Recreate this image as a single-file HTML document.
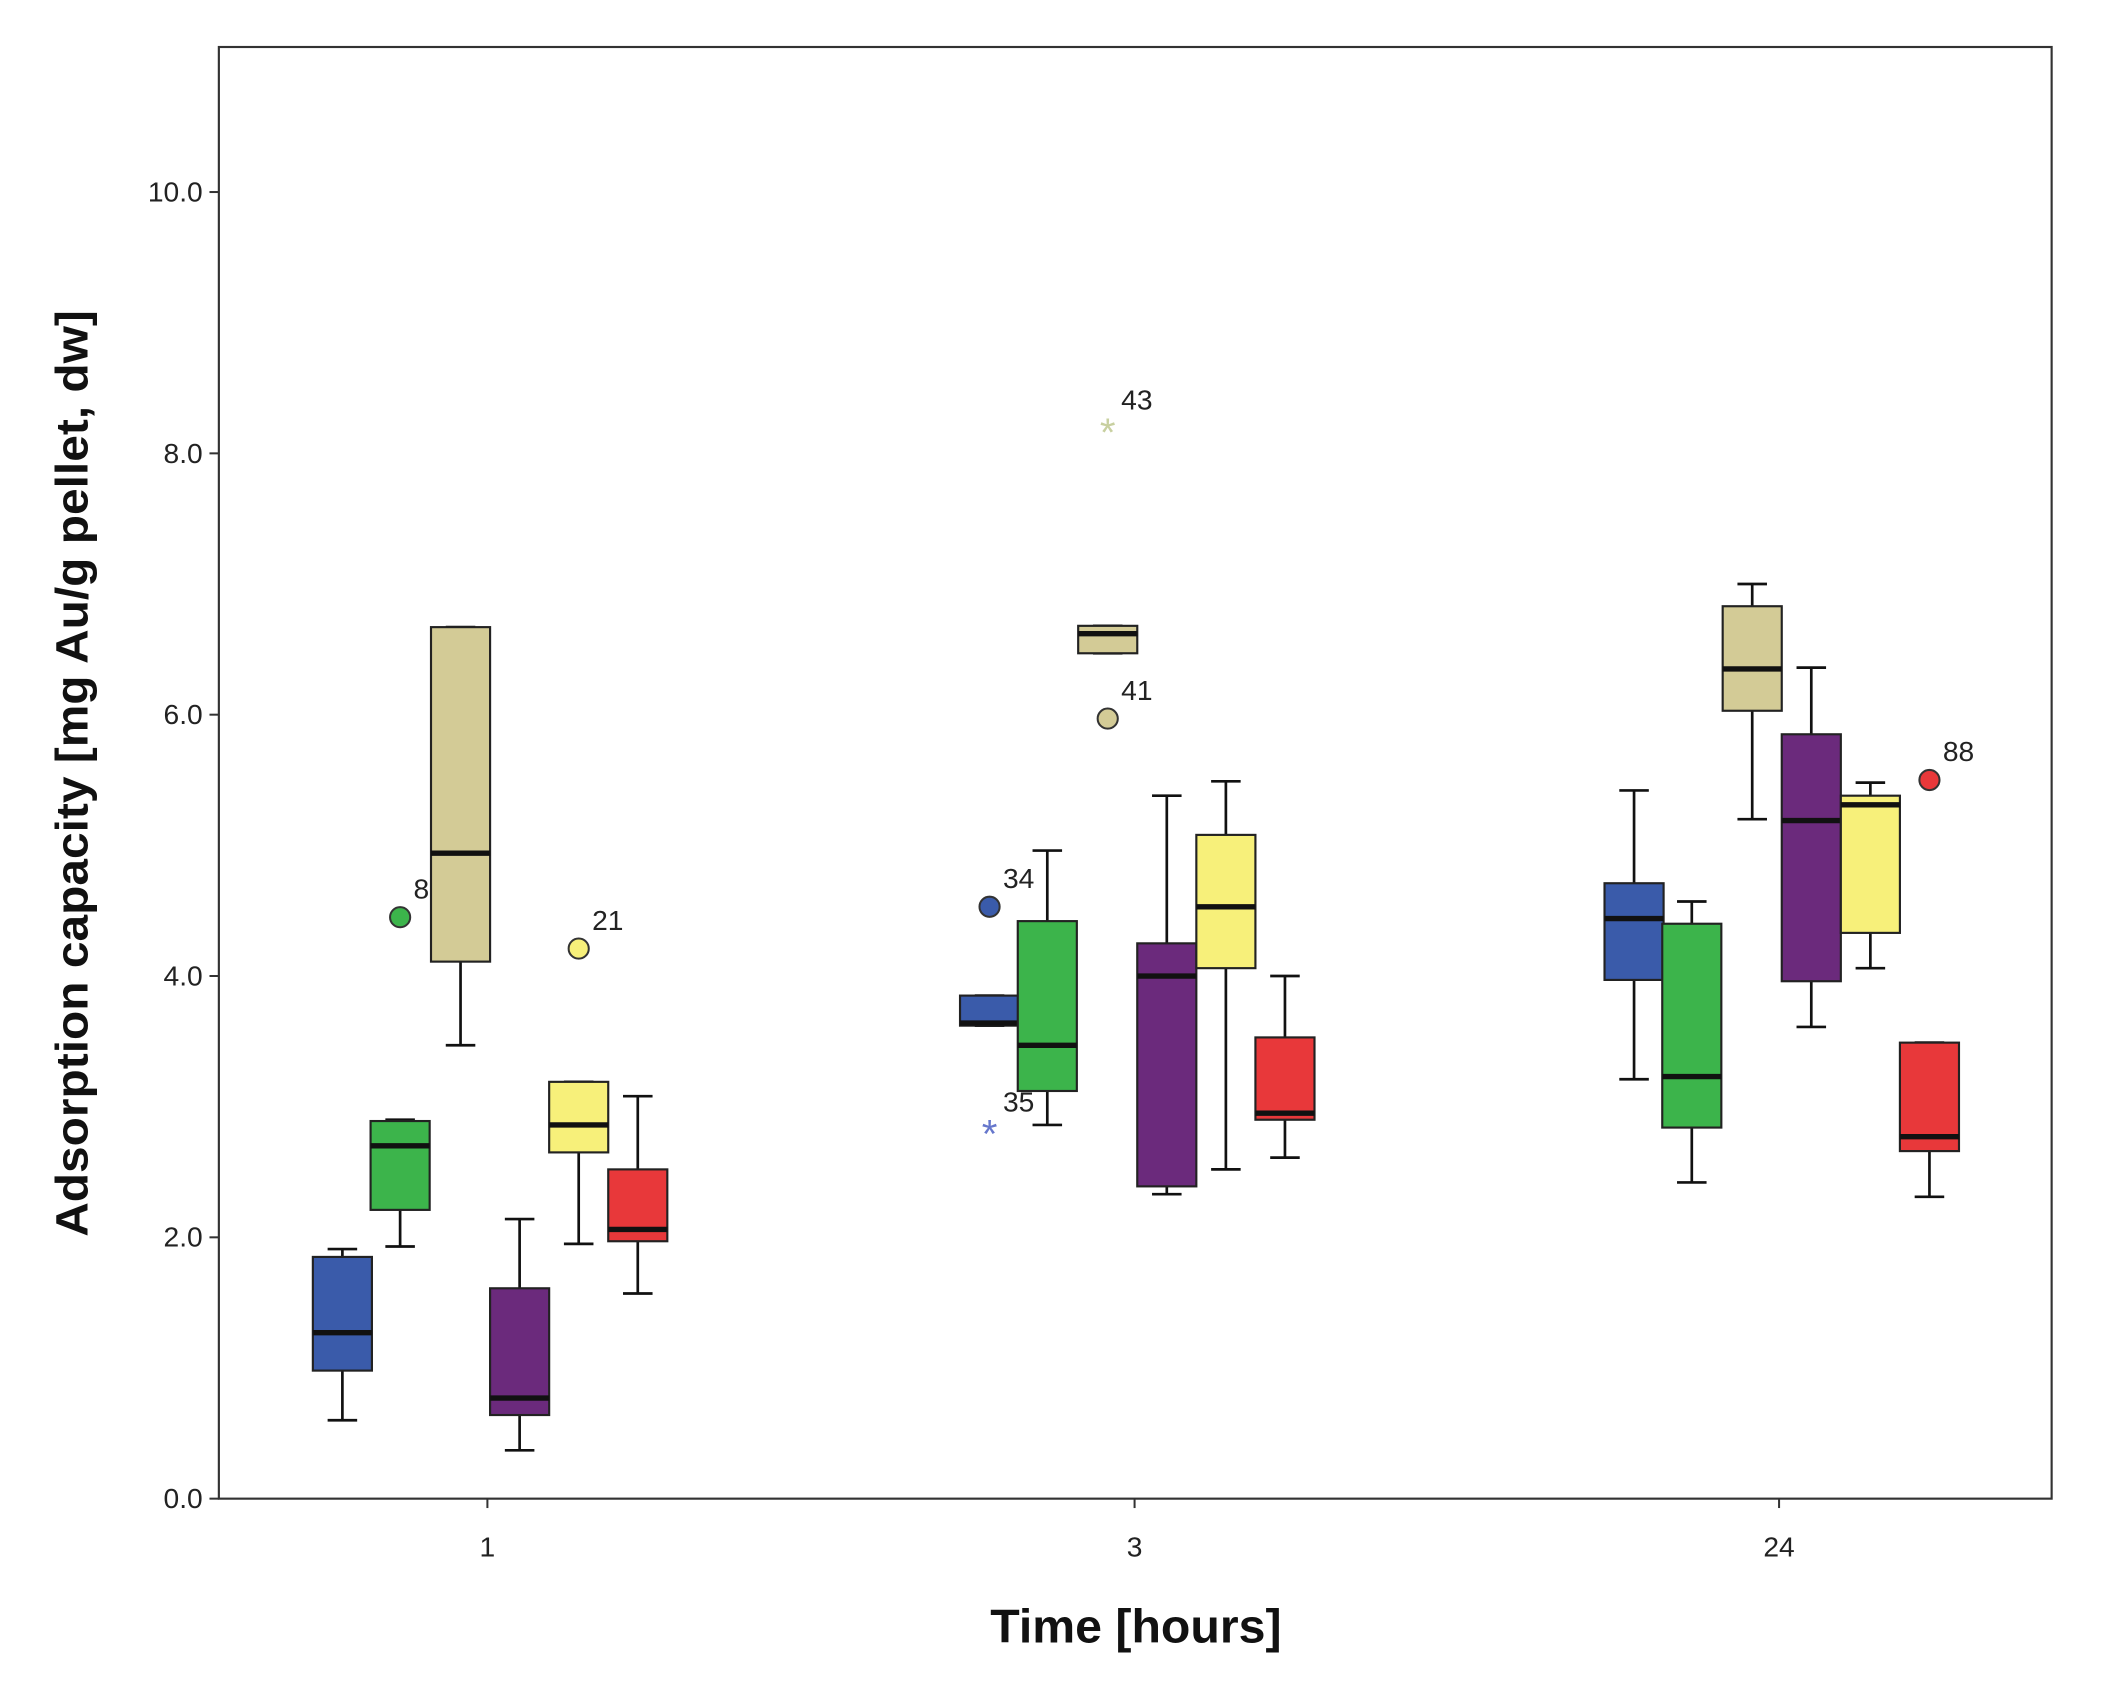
<!DOCTYPE html>
<html><head><meta charset="utf-8"><style>
html,body{margin:0;padding:0;background:#fff;}
svg{display:block;font-family:"Liberation Sans",Arial,sans-serif;}
</style></head><body>
<svg id="chart" width="2104" height="1688" viewBox="0 0 1567 1257" preserveAspectRatio="none" xmlns="http://www.w3.org/2000/svg">
<rect x="0" y="0" width="1567" height="1257" fill="#fff"/>
<g id="axes"></g>
<g id="marks"></g>
<text transform="translate(65,576) rotate(-90)" text-anchor="middle" font-size="34" font-weight="bold" fill="#111" textLength="690" lengthAdjust="spacingAndGlyphs">Adsorption capacity [mg Au/g pellet, dw]</text>
<text x="846" y="1223" text-anchor="middle" font-size="35" font-weight="bold" fill="#111" textLength="217" lengthAdjust="spacingAndGlyphs">Time [hours]</text>
</svg>
<script>
const categories = ["1","3","24"];
const seriesNames = ["blue","green","tan","purple","yellow","red"];
const seriesColors = ["#3a5baa","#3cb44b","#d3cb96","#6b2a7c","#f7f07a","#e8383a"];
// each box: [low, q1, median, q3, high] per category
const blueStats   = [[0.6,0.98,1.27,1.85,1.91],[3.62,3.62,3.64,3.85,3.85],[3.21,3.97,4.44,4.71,5.42]];
const greenStats  = [[1.93,2.21,2.70,2.89,2.90],[2.86,3.12,3.47,4.42,4.96],[2.42,2.84,3.23,4.40,4.57]];
const tanStats    = [[3.47,4.11,4.94,6.67,6.67],[6.47,6.47,6.62,6.68,6.68],[5.20,6.03,6.35,6.83,7.00]];
const purpleStats = [[0.37,0.64,0.77,1.61,2.14],[2.33,2.39,4.00,4.25,5.38],[3.61,3.96,5.19,5.85,6.36]];
const yellowStats = [[1.95,2.65,2.86,3.19,3.19],[2.52,4.06,4.53,5.08,5.49],[4.06,4.33,5.31,5.38,5.48]];
const redStats    = [[1.57,1.97,2.06,2.52,3.08],[2.61,2.90,2.95,3.53,4.00],[2.31,2.66,2.77,3.49,3.49]];
const outlierCat    = [0,0,1,1,1,1,2];
const outlierSeries = [1,4,0,0,2,2,5];
const outlierValues = [4.45,4.21,4.53,2.82,5.97,8.19,5.50];
const outlierLabels = ["8","21","34","35","41","43","88"];
const outlierTypes  = ["o","o","o","*","o","*","o"];
const yTicks = [0,2,4,6,8,10];
const yTickLabels = ["0.0","2.0","4.0","6.0","8.0","10.0"];

const NS="http://www.w3.org/2000/svg";
const L=163,R=1528,T=35,B=1116;
const y=v=>B-v*97.3;
const catCenter=[363,845,1325];
const offsets=[-108,-65,-20,24,68,112];
const x=(c,s)=>catCenter[c]+offsets[s];
const allStats=[blueStats,greenStats,tanStats,purpleStats,yellowStats,redStats];
function mk(tag,attrs,parent){const e=document.createElementNS(NS,tag);for(const k in attrs)e.setAttribute(k,attrs[k]);parent.appendChild(e);return e;}
const axes=document.getElementById('axes'),marks=document.getElementById('marks');
let fr=mk('rect',{x:L,y:T,width:R-L,height:B-T,fill:'none',stroke:'#333','stroke-width':1.6},axes);


yTicks.forEach((v,i)=>{
  const t=mk('line',{x1:L-7,x2:L,y1:y(v),y2:y(v),stroke:'#333','stroke-width':1.5},axes);
  
  
  const tx=mk('text',{x:L-12,y:y(v)+7,'text-anchor':'end','font-size':21,fill:'#222'},axes);
  tx.textContent=yTickLabels[i];
  
  
});
categories.forEach((c,i)=>{
  const t=mk('line',{x1:catCenter[i],x2:catCenter[i],y1:B,y2:B+7,stroke:'#333','stroke-width':1.5},axes);
  
  
  const tx=mk('text',{x:catCenter[i],y:B+43,'text-anchor':'middle','font-size':21,fill:'#222'},axes);
  tx.textContent=c;
  
  
});
const bw=44,cw=11;
allStats.forEach((st,s)=>{
  st.forEach((d,c)=>{
    const cx=x(c,s);
    const g=mk('g',{},marks);
    
    
    mk('line',{x1:cx,x2:cx,y1:y(d[0]),y2:y(d[4]),stroke:'#111','stroke-width':2},g);
    mk('line',{x1:cx-cw,x2:cx+cw,y1:y(d[0]),y2:y(d[0]),stroke:'#111','stroke-width':2},g);
    mk('line',{x1:cx-cw,x2:cx+cw,y1:y(d[4]),y2:y(d[4]),stroke:'#111','stroke-width':2},g);
    mk('rect',{x:cx-bw/2,y:y(d[3]),width:bw,height:Math.max(y(d[1])-y(d[3]),1),fill:seriesColors[s],stroke:'#222','stroke-width':1.6},g);
    mk('line',{x1:cx-bw/2,x2:cx+bw/2,y1:y(d[2]),y2:y(d[2]),stroke:'#111','stroke-width':4},g);
  });
});
outlierValues.forEach((v,i)=>{
  const c=outlierCat[i],s=outlierSeries[i];
  const cx=x(c,s),cy=y(v);
  const g=mk('g',{},marks);
  
  
  if(outlierTypes[i]==='o'){
    mk('circle',{cx:cx,cy:cy,r:7.5,fill:seriesColors[s],stroke:'#333','stroke-width':1.5},g);
  } else {
    const col=s===0?'#6677cc':'#c8d0a0';
    const st=mk('text',{x:cx,y:cy+13,'text-anchor':'middle','font-size':30,fill:col},g);
    st.textContent='*';
  }
  const lb=mk('text',{x:cx+10,y:cy-14,'font-size':21,fill:'#222'},g);
  lb.textContent=outlierLabels[i];
});
</script>
</body></html>
